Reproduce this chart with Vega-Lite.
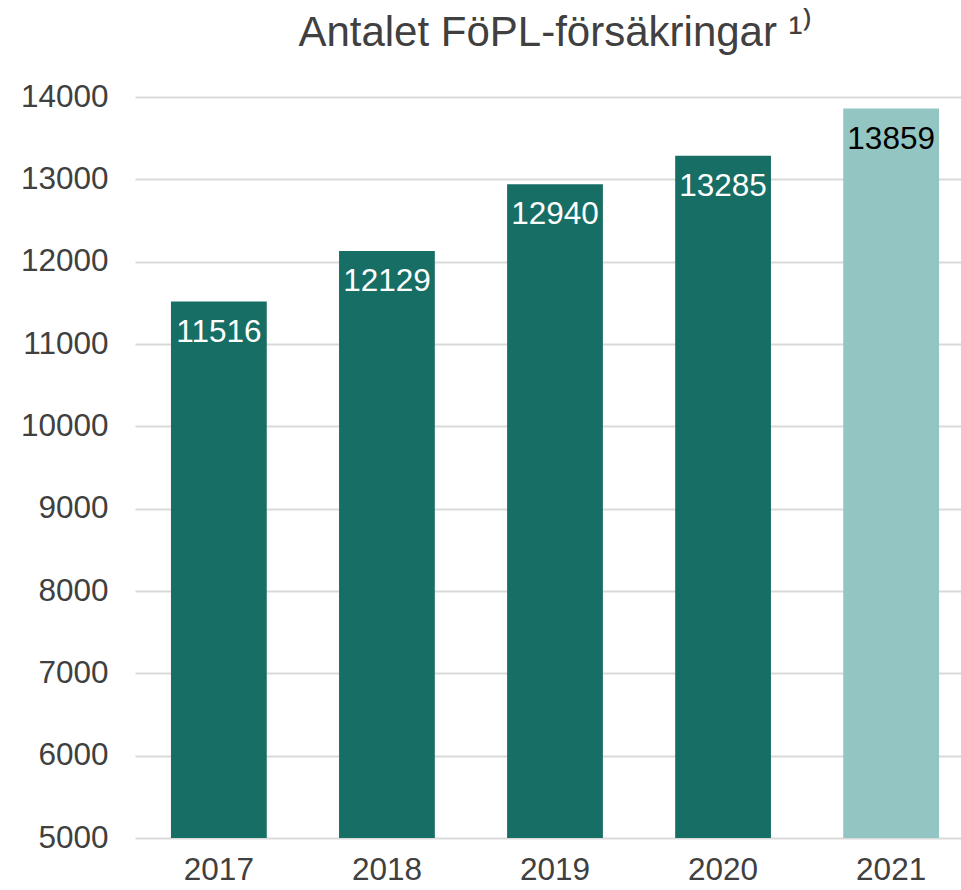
{
  "$schema": "https://vega.github.io/schema/vega-lite/v6.json",
  "width": 840,
  "height": 741,
  "padding": {"left": 20, "top": 12, "right": 0, "bottom": 0},
  "background": "white",
  "title": {
    "text": "Antalet FöPL-försäkringar ¹⁾",
    "font": "Liberation Sans",
    "fontSize": 42,
    "fontWeight": "normal",
    "color": "#404040",
    "anchor": "middle",
    "offset": 26
  },
  "data": {
    "values": [
      {"year": "2017", "value": 11516, "type": "a"},
      {"year": "2018", "value": 12129, "type": "a"},
      {"year": "2019", "value": 12940, "type": "a"},
      {"year": "2020", "value": 13285, "type": "a"},
      {"year": "2021", "value": 13859, "type": "b"}
    ]
  },
  "config": {
    "view": {"stroke": null},
    "axis": {"labelFont": "Liberation Sans", "labelFontSize": 31.5, "labelColor": "#404040"}
  },
  "encoding": {
    "x": {
      "field": "year", "type": "nominal",
      "scale": {"paddingInner": 0.43, "paddingOuter": 0.214},
      "axis": {"title": null, "labelAngle": 0, "domain": false, "ticks": false, "labelPadding": 16}
    },
    "y": {
      "field": "value", "type": "quantitative",
      "scale": {"domain": [5000, 14000], "nice": false, "clamp": true},
      "axis": {
        "title": null, "values": [5000, 6000, 7000, 8000, 9000, 10000, 11000, 12000, 13000, 14000],
        "format": "d", "domain": false, "ticks": false, "labelPadding": 27,
        "gridColor": "#D9D9D9", "gridWidth": 2
      }
    }
  },
  "layer": [
    {
      "mark": {"type": "bar"},
      "encoding": {
        "color": {
          "field": "type", "type": "nominal",
          "scale": {"domain": ["a", "b"], "range": ["#176E64", "#93C6C2"]},
          "legend": null
        }
      }
    },
    {
      "mark": {"type": "text", "baseline": "top", "dy": 15, "font": "Liberation Sans", "fontSize": 31.5},
      "encoding": {
        "text": {"field": "value", "type": "quantitative", "format": "d"},
        "fill": {
          "condition": {"test": "datum.type === 'b'", "value": "#000000"},
          "value": "#FFFFFF"
        }
      }
    }
  ]
}
